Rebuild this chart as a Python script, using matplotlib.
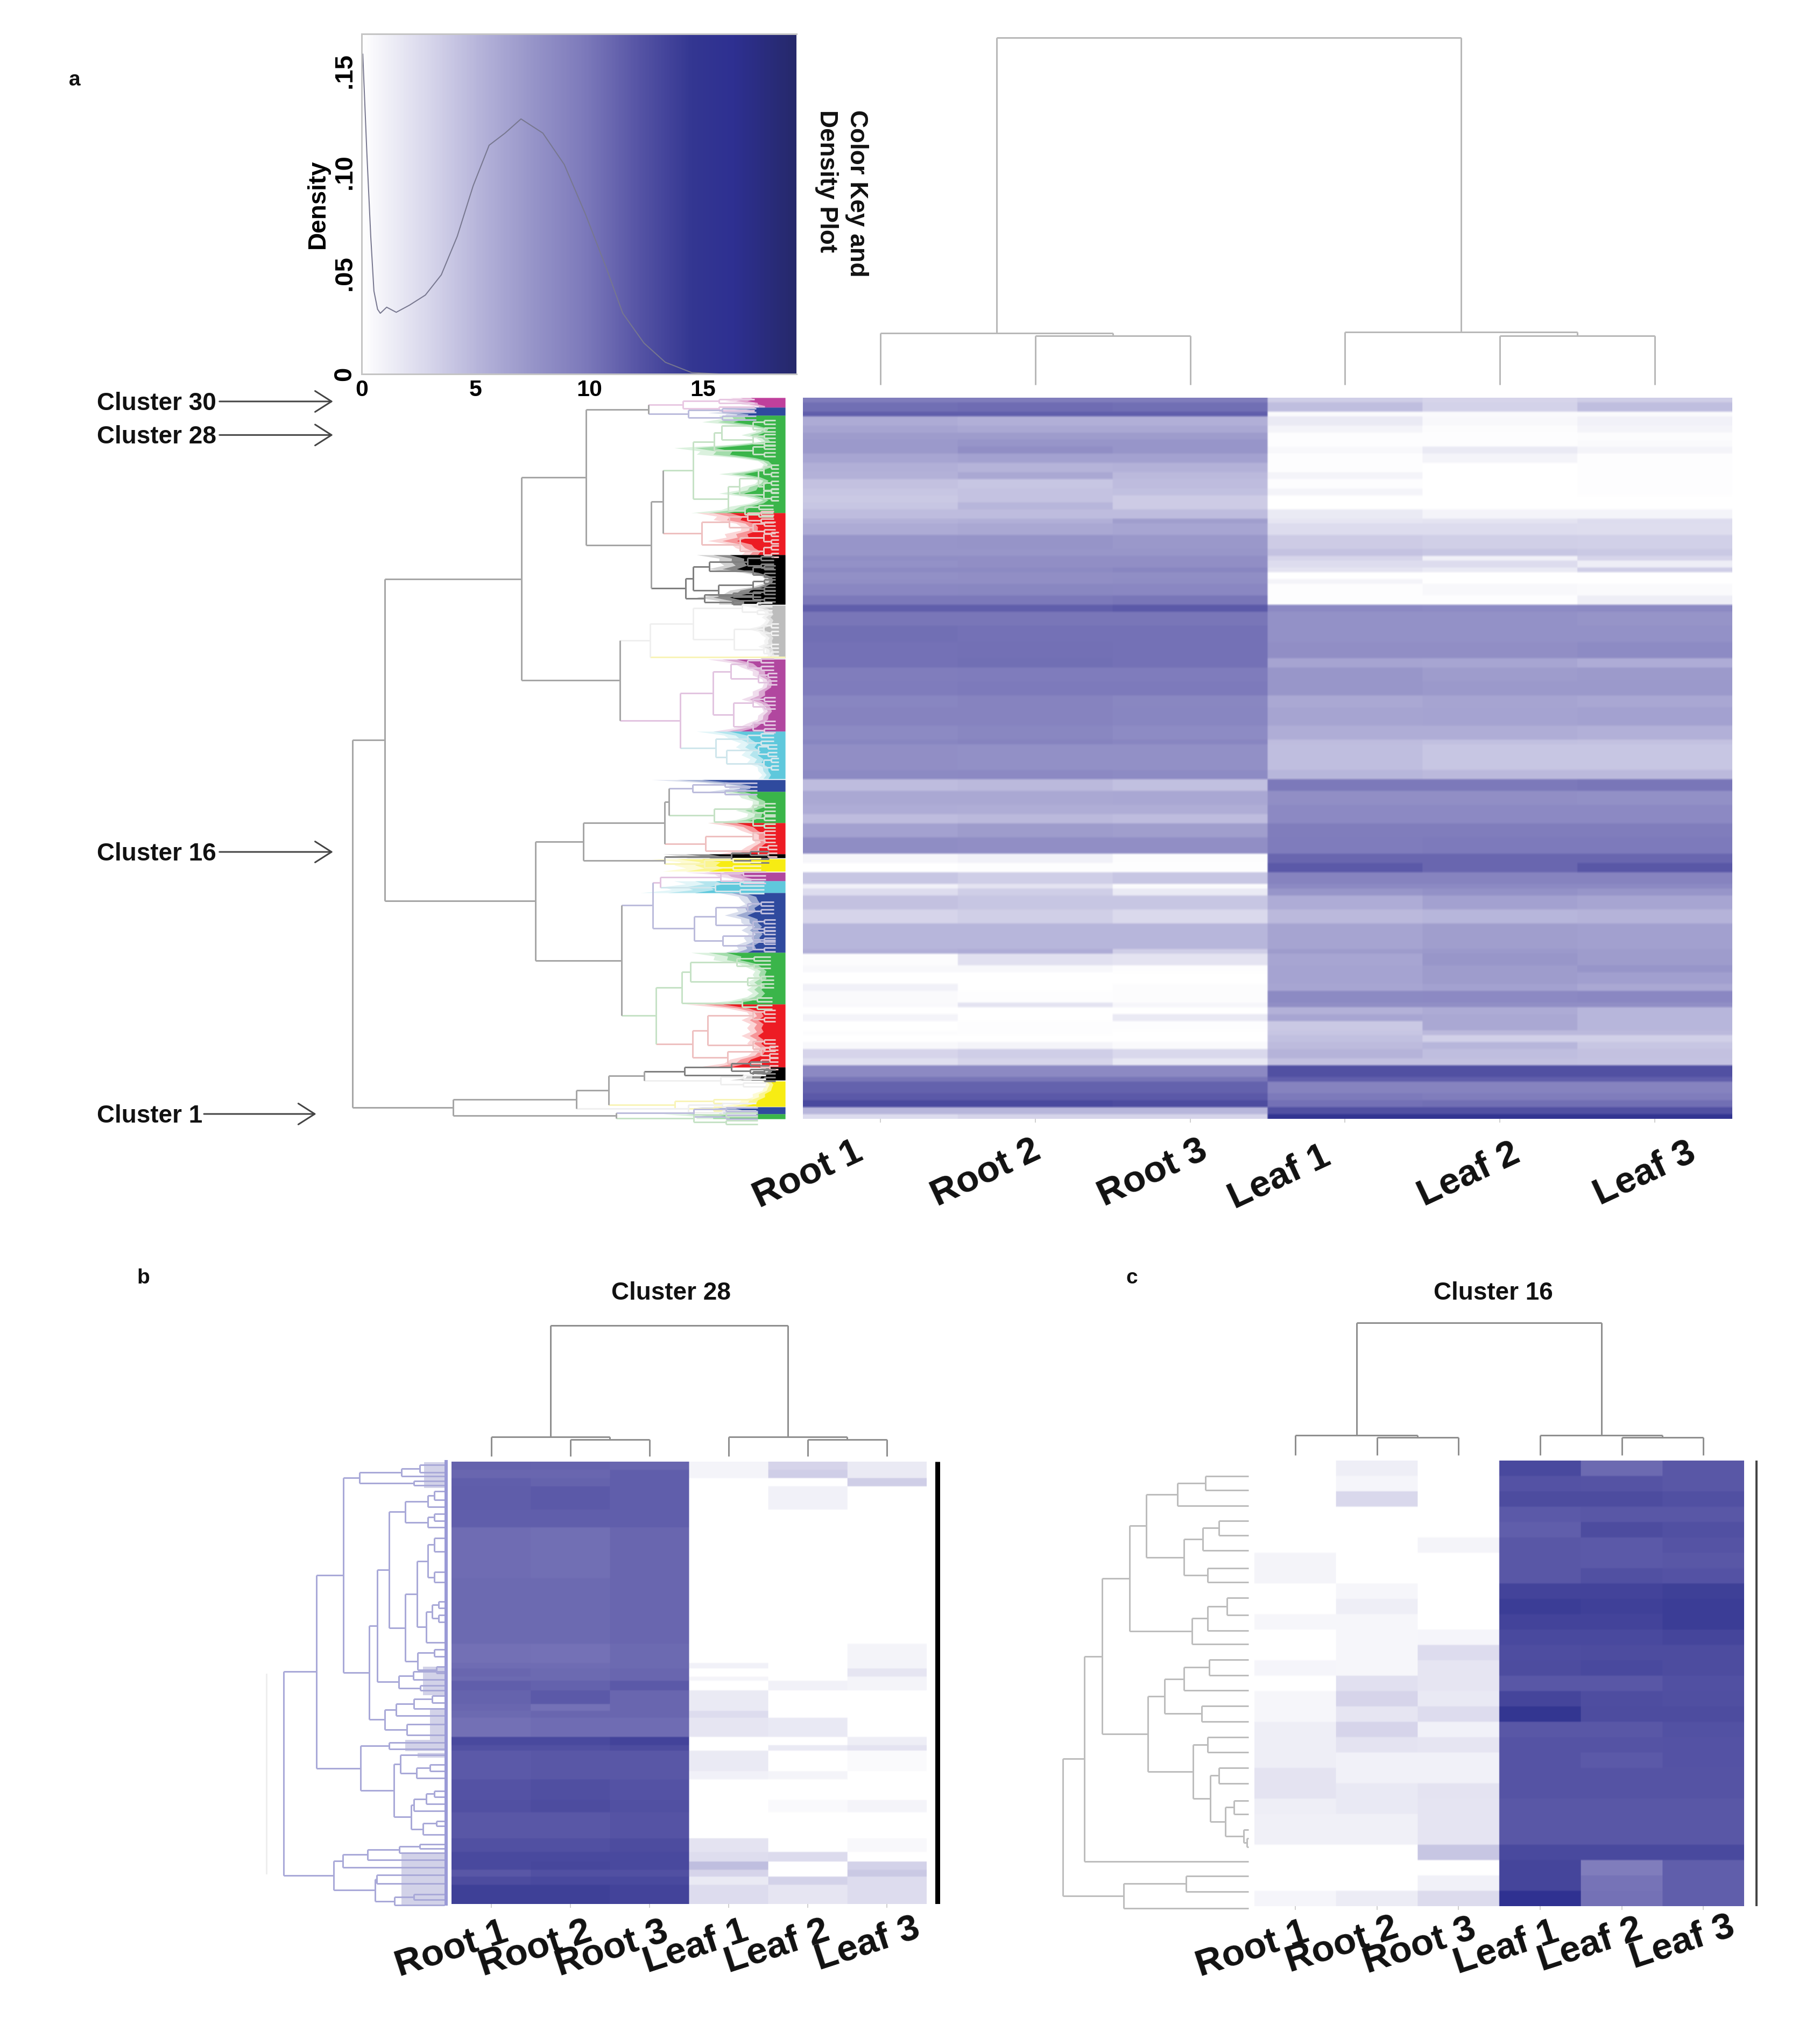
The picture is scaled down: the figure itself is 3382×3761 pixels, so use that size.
import numpy as np
import matplotlib
matplotlib.use('Agg')
from matplotlib import pyplot as plt
from matplotlib.colors import LinearSegmentedColormap

plt.rcParams['font.family'] = ['Liberation Sans', 'DejaVu Sans']
plt.rcParams['font.weight'] = 'bold'

W, H = 3382, 3761
S = W / 1410.0   # label positions were read on the shrunk picture

# colour key
key_stops = [0, 2.8, 5.15, 7.5, 9.8, 12.2, 14.5, 16.4, 19.1]
key_colors = ['#ffffff', '#d9d8ec', '#b6b4da', '#9795c9', '#7d7abb', '#5654a5', '#343792', '#2e3091', '#26296b']

# density curve
density_x = [0.05, 0.23, 0.4, 0.54, 0.7, 0.82, 1.1, 1.52, 2.1, 2.8, 3.5, 4.2, 4.9, 5.6, 6.3, 7.0, 7.96, 8.9,
             9.83, 10.76, 11.47, 12.4, 13.34, 14.5, 15.7, 19.1]
density_y = [0.158, 0.109, 0.068, 0.041, 0.032, 0.030, 0.033, 0.0305, 0.034, 0.039, 0.049, 0.068, 0.093, 0.113,
             0.119, 0.126, 0.119, 0.1035, 0.079, 0.052, 0.030, 0.0153, 0.0058, 0.0007, 0, 0]

samples = ['Root 1', 'Root 2', 'Root 3', 'Leaf 1', 'Leaf 2', 'Leaf 3']

# panel a heatmap, genes per band and values per sample
a_genes = [15, 60, 28, 42, 40, 40, 40, 40, 50, 50, 40, 50, 50, 35, 35, 50, 30, 70, 70, 45, 30, 30, 35, 30, 30, 60,
           55, 45, 70, 90,
           90, 55, 85, 70, 70, 100, 75, 25, 150, 55, 55, 90, 50, 50, 70, 100, 45, 55, 60,
           30, 35, 85, 80, 140, 30, 60, 35, 65, 40, 70, 20, 40, 40, 50, 30, 45, 40, 45, 40, 60, 25, 75, 40, 40, 30, 28]
a_values = [
    [9.5, 9.5, 9.5, 3.5, 3, 3.5], [10.5, 10.6, 10.5, 4.5, 3.2, 4.5], [11.5, 11.5, 11.5, 0.3, 0.3, 0.3],
    [5.8, 5.5, 5.5, 1.5, 0.5, 1], [6.3, 6, 6, 0.8, 0.2, 0.8], [7, 7, 7, 0.1, 0.1, 0.2], [7.2, 7.5, 7.5, 0.1, 0.1, 0.3],
    [7.2, 8, 7.5, 0.5, 1.5, 0.8], [6.2, 6.5, 6.5, 0.1, 0.8, 0.1], [5.5, 5.2, 5.3, 0.1, 0, 0.1],
    [5.3, 6, 4.8, 0.8, 0, 0.1], [4.3, 4, 4.6, 0.1, 0, 0.1], [4, 4.2, 4.4, 0.8, 0, 0.1], [3.8, 4.2, 3.6, 0, 0, 0],
    [4, 5, 3.6, 0, 0, 0], [4.6, 4.6, 4.6, 1.5, 0.8, 0.8], [5.3, 5.5, 6.8, 1.8, 2, 2.5], [5.8, 6, 6.2, 2.5, 2.5, 2.4],
    [7.5, 7.6, 7.3, 3.6, 3.4, 3.3], [7.4, 7.4, 7.4, 4.2, 4, 3.8], [8.1, 8, 8, 3, 1, 3], [7.8, 8, 8, 2.5, 2.5, 1.2],
    [8.4, 8.4, 8.8, 2, 1.5, 3.5], [7.9, 8, 8.1, 0, 0, 0], [8, 8, 8.2, 0.8, 0, 0], [8.6, 8.7, 8.6, 0.1, 0.5, 0.3],
    [9.8, 9.8, 10, 0.1, 0.1, 1.2], [11.5, 11.5, 11.8, 8.5, 8.3, 8.4], [10, 10, 10, 7.8, 7.8, 7.6],
    [10.5, 10.3, 10.3, 7.8, 7.8, 7.8],
    [10.3, 10.4, 10.3, 8, 8, 8.3], [10.3, 10.5, 10.3, 6.3, 6.2, 5.7], [9.5, 9.6, 9.6, 7.4, 7, 7.1],
    [9.6, 9.7, 9.7, 7.4, 7.2, 7.2], [8.8, 9, 8.7, 6, 6.3, 6.1], [9, 9, 8.8, 6.3, 6.4, 6.5],
    [8.4, 8.7, 8.3, 5.6, 5.6, 5.4], [8.8, 9, 8.8, 4.6, 4.4, 4.3], [8, 7.9, 7.9, 4.5, 4, 4],
    [8.4, 8.5, 8.3, 5, 4.8, 4.8], [4.6, 4.8, 4.4, 9.8, 9.8, 10], [6, 6, 6.1, 8, 8, 7.9],
    [5.7, 5.6, 5.6, 8.5, 8.5, 8.5], [4.6, 4.8, 4.6, 8.5, 8.5, 8.5], [6.5, 7, 6.8, 9.5, 9.5, 9.5],
    [8.2, 8, 8, 9.6, 9.7, 9.7], [0.6, 1, 0.2, 11, 11, 11], [0, 0.1, 0.1, 11.8, 11, 12], [4, 3.5, 4, 9, 9, 9],
    [1, 2, 0.3, 8.5, 8.5, 8.5], [2.5, 3.5, 1.5, 7.5, 7.8, 7.5], [4.3, 4, 4, 5.7, 6.5, 6.2], [3, 3.4, 2.7, 4.8, 5, 5.2],
    [5, 5, 5, 6.3, 6.8, 6.6], [5.5, 5.7, 3.5, 7, 7.2, 7], [0.2, 2.2, 2, 6.2, 7.4, 7], [0.5, 0.5, 0.1, 6.4, 7, 7.5],
    [0, 0, 0, 6.4, 7, 6.7], [1, 0, 0.2, 6.2, 6.5, 6], [0.3, 0.1, 0.2, 8.4, 8.5, 8.6], [0.4, 2, 0.6, 8, 8, 8],
    [0, 0, 0, 5.3, 5.8, 5], [0.8, 0, 1.5, 6.2, 6, 5], [0, 0.1, 0.1, 3.8, 6, 5], [0.2, 0.1, 0, 4, 4.8, 4.8],
    [0, 0, 0, 4.4, 3.3, 3.3], [0.5, 0.8, 0.3, 4.7, 5, 4], [3, 3.5, 2.8, 5.2, 4.5, 4.3], [2.3, 3, 1.7, 4.3, 4.3, 4.2],
    [8.5, 8.5, 8.5, 12.5, 12.5, 12.5], [10, 10, 10, 11.5, 11.5, 11.5], [11.3, 11.3, 11.3, 9, 9, 9],
    [11.8, 11.8, 11.8, 9.7, 9.5, 9.5], [13, 13, 12.8, 10.3, 10.5, 10.5], [5, 5, 5, 12.5, 12.5, 12.5],
    [2.5, 3, 3, 15, 15, 15],
]

# panel a clusters on the colour bar: name, first and last gene row
cl_color = {'M': '#c0409c', 'B': '#2f4a9e', 'G': '#3ab54a', 'R': '#ed1c24', 'K': '#000000', 'A': '#bdbdbd',
            'P': '#b1479f', 'C': '#5fc8dc', 'Y': '#f7ec13'}
cl_pale = {'M': '#e8c8e2', 'B': '#bcbcdc', 'G': '#c6e2c6', 'R': '#eec0c0', 'K': '#808080', 'A': '#efefef',
           'P': '#e2c4e0', 'C': '#cfe6ec', 'Y': '#f8f4b8', 'D': '#a6a6a6'}
cl_names = ['M', 'B', 'G', 'R', 'K', 'A', 'P', 'C', 'B', 'G', 'R', 'K', 'Y', 'P', 'C', 'B', 'G', 'R', 'K', 'Y', 'B', 'G']
cl_start = [0, 18, 33, 214, 292, 386, 486, 620, 710, 732, 790, 848, 857, 882, 898, 920, 1031, 1127, 1244, 1270, 1318, 1331]
cl_end = [18, 33, 214, 292, 384, 484, 620, 708, 732, 790, 848, 855, 880, 898, 920, 1031, 1127, 1244, 1268, 1317, 1331, 1340]
cl_depth = [
    [40, 45, 30, 20], [35, 50, 60, 45],
    [50, 65, 15, 30, 12, 90, 70, 15, 12, 50, 15, 30, 50, 15, 40, 75],
    [70, 55, 30, 45, 60, 35, 30], [70, 50, 60, 12, 10, 40, 70, 50],
    [30, 10, 12, 10, 25, 12, 10, 15, 8, 10],
    [60, 30, 20, 10, 20, 30, 12, 15, 25, 55], [70, 40, 35, 30, 25, 15, 15],
    [110, 40, 60], [50, 30, 20, 35, 25, 60], [60, 30, 20, 25, 50], [100, 100], [110, 90, 100],
    [80, 50, 40], [90, 100, 120],
    [50, 30, 35, 45, 30, 30, 28, 35, 45], [75, 55, 25, 20, 25, 25, 25, 70],
    [80, 25, 30, 25, 30, 25, 20, 40, 70], [15, 10, 25, 40], [12, 10, 20, 30, 50], [70, 50], [100, 70],
]

# panel a gene tree: node is (height, colour, upper, lower), leaf is (row, end height, colour)
a_top = (254, 'D', (13, 190, 'M'), (30, 180, 'B'))
a_green1 = (171, 'G', (132, 'G', (118, 'G', (52, 60, 'G'), (78, 60, 'G')), (98, 60, 'G')),
            (106, 'G', (85, 'G', (50, 'G', (135, 40, 'G'), (165, 40, 'G')), (180, 40, 'G')), (210, 75, 'G')))
a_red1 = (155, 'R', (104, 'R', (221, 70, 'R'), (241, 60, 'R')), (84, 'R', (260, 40, 'R'), (285, 40, 'R')))
a_black1 = (185, 'K', (171, 'K', (141, 'K', (305, 70, 'K'), (322, 60, 'K')), (124, 'K', (348, 60, 'K'), (368, 60, 'K'))),
            (373, 150, 'K'))
a_n3 = (370, 'D', a_top, (249, 'D', (227, 'D', a_green1, a_red1), a_black1))
a_grey = (251, 'A', (171, 'A', (391, 80, 'A'), (95, 'A', (430, 40, 'A'), (468, 40, 'A'))), (482, 0, 'Y'))
a_purple = (134, 'P', (101, 'P', (495, 70, 'P'), (522, 50, 'P')), (96, 'P', (567, 60, 'P'), (611, 60, 'P')))
a_cyan = (129, 'C', (634, 70, 'C'), (109, 'C', (655, 50, 'C'), (680, 40, 'C')))
a_n2 = (490, 'D', a_n3, (307, 'D', a_grey, (195, 'P', a_purple, a_cyan)))
a_n7 = (375, 'D',
        (224, 'D', (216, 'D', (726, 172, 'B'), (132, 'G', (764, 60, 'G'), (788, 60, 'G'))),
         (148, 'R', (815, 60, 'R'), (842, 50, 'R'))),
        (224, 'D', (853, 100, 'K'), (866, 150, 'Y')))
a_n8u = (246, 'B', (232, 'P', (891, 120, 'P'), (910, 130, 'C')),
         (169, 'B', (129, 'B', (947, 70, 'B'), (980, 60, 'B')), (116, 'B', (1000, 60, 'B'), (1018, 60, 'B'))))
a_n8l = (240, 'G', (192, 'G', (176, 'G', (1049, 90, 'G'), (1085, 70, 'G')), (1125, 80, 'G')),
         (172, 'R', (144, 'R', (1148, 60, 'R'), (1203, 60, 'R')), (107, 'R', (1215, 45, 'R'), (1237, 45, 'R'))))
a_n1 = (744, 'D', a_n2, (464, 'D', a_n7, (304, 'D', a_n8u, a_n8l)))
a_low = (617, 'D',
         (388, 'D', (328, 'D', (262, 'D', (187, 'K', (1244, 100, 'K'), (1259, 60, 'K')), (1269, 120, 'A')),
                     (1314, 205, 'Y')), (1321, 180, 'A')),
         (314, 'D', (1329, 170, 'B'), (1339, 170, 'G')))
a_tree = (804, 'D', a_n1, a_low)

# sample trees above the heatmaps
a_col_tree = (645, (96, 0.5, (91, 1.5, 2.5)), (98, 3.5, (91, 4.5, 5.5)))
b_col_tree = (243, (36, 0.5, (31, 1.5, 2.5)), (36, 3.5, (31, 4.5, 5.5)))
c_col_tree = (246, (37, 0.5, (33, 1.5, 2.5)), (37, 3.5, (33, 4.5, 5.5)))

# panel b heatmap
b_genes = [22, 25, 22, 68, 55, 145, 120, 75, 55, 15, 25, 10, 30, 40, 18, 22, 55, 25, 15, 60, 25, 60, 35, 75, 40, 28, 27,
           20, 23, 54]
b_values = [
    [11.3, 11.2, 11, 0.8, 3, 1.5], [11, 11, 11.5, 0.8, 3.5, 1.5], [11.5, 11.2, 11.5, 0, 0, 3.5],
    [11.6, 11.8, 11.5, 0, 1, 0], [11.5, 11.5, 11.5, 0, 0, 0], [10.6, 10.5, 11, 0, 0, 0], [10.8, 10.8, 11, 0, 0, 0],
    [10.8, 10.8, 11, 0, 0, 0], [10.4, 10.3, 10.8, 0, 0, 0.8], [10.6, 10.6, 10.8, 1, 0, 0.8], [11, 10.8, 11, 0, 0, 1.8],
    [10.8, 10.8, 11, 0.8, 0, 0.8], [11.5, 11.3, 11.8, 0, 1, 0.8], [11.2, 11.8, 11, 1.5, 0, 0], [11, 10.3, 11, 1.5, 0, 0],
    [10.8, 11, 11, 2.5, 0, 0], [10.4, 10.6, 10.6, 1.8, 1.6, 0], [13, 13, 13.5, 0, 0, 1.2], [12.5, 12.5, 12.8, 0, 1.5, 2],
    [11.8, 12, 12, 1.5, 0, 0.3], [11.8, 12, 12, 1, 0.8, 0], [12.3, 12.6, 12.3, 0, 0, 0], [12.5, 12.8, 12.5, 0, 0.4, 0.8],
    [12, 12, 12.2, 0, 0, 0], [12.5, 12.5, 12.8, 2, 0, 0.5], [13, 13, 13, 2.4, 2.6, 0], [13, 13.2, 13, 4.5, 0, 3.2],
    [12, 12.5, 12.5, 3, 0, 3.8], [12.8, 13, 13, 1.5, 3.2, 2.5], [13.8, 13.8, 13.5, 2.5, 1.8, 2.5],
]

# panel b gene tree: node is (height, upper, lower), leaf is a row
b_a = (207, (105, (60, 113, 135), 145), (75, 160, 172))
b_b = (95, (40, (25, 190, 215), 235), (40, (25, 255, 275), 295))
b_c = (96, (67, (40, (25, 325, 365), (25, 425, 455)), (45, (30, (15, 510, 530), (15, 550, 570)), 630)),
       (65, (25, 650, 670), (20, 700, 720)))
b_e = (163, (134, b_b, b_c), (111, (76, 715, 738), (59, 755, 770)))
b_g = (145, (118, (74, (30, 785, 805), 823), 843), (91, 868, 899))
b_top1 = (246, b_a, (183, b_e, b_g))
b_top2 = (204, (135, 921, 941),
          (123, (107, 958, (68, (35, 986, 1005), 1025)),
           (81, (74, (45, (25, 1062, 1080), 1100), 1120), (52, (20, 1150, 1165), 1190))))
b_top3 = (269, (247, (187, (110, (60, 1218, 1230), 1243), 1263), 1285),
          (169, (165, 1308, 1333), (122, (74, 1364, 1380), 1395)))
b_tree = (391, (311, b_top1, b_top2), b_top3)
b_dense_from = [105, 700, 823, 913, 952, 1243]
b_dense_to = [180, 784, 913, 947, 966, 1395]
b_dense_depth = [50, 52, 35, 96, 65, 105]
b_stem_height = 433

# panel c heatmap
c_values = [
    [0, 1.2, 0, 13, 10.8, 12], [0, 0.7, 0, 12.3, 12.2, 12], [0, 2.8, 0, 12.8, 12.8, 12.5], [0, 0, 0, 11.8, 12, 12],
    [0, 0, 0, 11.5, 12.8, 12.5], [0, 0, 0.8, 12, 11.8, 12.2], [0.8, 0, 0, 12, 11.8, 12], [0.8, 0, 0, 12, 12.5, 12.3],
    [0, 0.6, 0, 13.5, 13.5, 13.8], [0, 1.2, 0, 14, 13.7, 14], [0.6, 0.6, 0, 13.5, 13.5, 14], [0, 0.6, 0.7, 13, 13, 13.3],
    [0, 0.6, 2.5, 12.7, 12.8, 12.8], [0.7, 0.6, 1.8, 12.8, 13, 12.8], [0, 2.2, 1.8, 12, 12, 12.5],
    [0.6, 3, 1.6, 13.3, 12.7, 12.6], [0.6, 1.8, 2.5, 14.5, 12.8, 12.8], [1.2, 3, 1, 12, 12, 12.4],
    [1.2, 2, 1.8, 12.2, 12.2, 12.3], [1.2, 1, 1, 12.2, 11.8, 12.3], [2, 1, 1, 12.2, 12.2, 12.2],
    [2, 1.6, 2, 12.2, 12.2, 12.2], [1.2, 1.6, 1.9, 12, 12, 12], [1.1, 1.1, 1.9, 12, 12, 12], [1.1, 1.1, 1.9, 12, 12, 12],
    [0, 0, 4, 13, 13, 13], [0, 0, 0, 13.3, 9.5, 11.5], [0, 0, 1, 13.3, 10.2, 11.5], [0.7, 1.4, 2.6, 16, 10.3, 11.5],
]

# panel c gene tree
c_g = (213, (148, (90, 145, 187), 232),
       (135, (95, (62, 275, 318), 362), (85, 413, 455)))
c_j = (118, (85, (45, 500, 550), 595), 635)
c_k = (248, c_g, c_j)
c_o = (175, (135, (82, 680, 725), 770), (97, 815, 860))
c_u = (48, (30, 1090, 1130), (10, 1175, (3, 1200, 1225)))
c_w = (115, (85, 905, 950), (80, (62, 995, 1040), c_u))
c_y = (305, c_k, (210, c_o, c_w))
c_tree = (387, (342, c_y, 1268), (260, (130, 1310, 1355), 1405))


def px_axes(x0, y0, x1, y1):
    return fig.add_axes([x0 / W, 1 - y1 / H, (x1 - x0) / W, (y1 - y0) / H])


def lw(px):
    return px * 0.72


def draw_tree(ax, node, color, width, col_tree=False, seen=None):
    # returns (position, height, colour) of the node, draws everything under it
    def seg(h0, p0, h1, p1, c):
        if col_tree:
            ax.plot([p0, p1], [h0, h1], color=c, lw=lw(width), solid_capstyle='butt', clip_on=False)
        else:
            ax.plot([h0, h1], [p0, p1], color=c, lw=lw(width), solid_capstyle='butt', clip_on=False)

    if isinstance(node, (int, float)):
        if seen is not None:
            seen.append(node)
        return node, 0, color
    if len(node) == 3 and isinstance(node[2], str):
        # coloured leaf of panel a, it forks twice on its way into the colour bar
        y, h_end, name = node
        c = cl_pale[name]
        if h_end > 0:
            seg(h_end, y - 7, h_end, y + 7, c)
            for d in (-7, 7):
                seg(h_end, y + d, h_end * 0.65, y + d, c)
                seg(h_end * 0.65, y + d - 3.5, h_end * 0.65, y + d + 3.5, c)
                seg(h_end * 0.65, y + d - 3.5, h_end * 0.3, y + d - 3.5, c)
                seg(h_end * 0.65, y + d + 3.5, h_end * 0.3, y + d + 3.5, c)
        return y, h_end, c
    if len(node) == 4:
        h, c, up, down = node
        c = cl_pale[c]
    else:
        h, up, down = node
        c = color
    p_up, h_up, c_up = draw_tree(ax, up, color, width, col_tree, seen)
    p_down, h_down, c_down = draw_tree(ax, down, color, width, col_tree, seen)
    seg(h, p_up, h_up, p_up, c_up)
    seg(h, p_down, h_down, p_down, c_down)
    seg(h, p_up, h, p_down, c)
    return (p_up + p_down) / 2.0, h, c


def heat(ax, values, genes):
    # one row per few genes, so that imshow softens the band edges a little
    rows = np.repeat(np.array(values), genes, axis=0)
    step = max(1, rows.shape[0] // 300)
    shown = np.repeat(rows[::step], 100, axis=1)
    ax.imshow(shown, cmap=cmap, vmin=0, vmax=19.1, aspect='auto', interpolation='bilinear',
              extent=[0, 6, rows.shape[0], 0])
    ax.set_xticks(np.arange(6) + 0.5)
    ax.set_xticklabels([])
    ax.set_yticks([])
    ax.tick_params(axis='x', length=5, width=lw(2), color='#d0d0d0')
    for s in ax.spines.values():
        s.set_visible(False)


def bare(ax):
    ax.axis('off')


def label(x, y, txt, **kw):
    fig.text(x * S / W, 1 - y * S / H, txt, ha='center', va='center', color='#111111', **kw)


cmap = LinearSegmentedColormap.from_list('key', [(v / 19.1, c) for v, c in zip(key_stops, key_colors)])

fig = plt.figure(figsize=(W / 100, H / 100), dpi=100, facecolor='white')

# colour key and density
ax = px_axes(672, 63, 1480, 695)
ax.imshow(np.linspace(0, 19.1, 400).reshape(1, -1), cmap=cmap, vmin=0, vmax=19.1, aspect='auto',
          extent=[0, 19.1, 0, 0.168], zorder=0)
ax.plot(density_x, density_y, color='#77778f', lw=lw(2))
ax.set_xlim(0, 19.1)
ax.set_ylim(0, 0.168)
ax.set_xticks([0, 5, 10, 15])
ax.set_xticklabels(['0', '5', '10', '15'], fontsize=31, fontweight='bold')
ax.set_yticks([0, 0.05, 0.10, 0.15])
ax.set_yticklabels(['0', '.05', '.10', '.15'], fontsize=34, fontweight='bold', rotation=90, va='center')
ax.tick_params(length=0, pad=7)
ax.set_ylabel('Density', fontsize=33, fontweight='bold', labelpad=4)
for s in ax.spines.values():
    s.set_color('#c4c4c4')
    s.set_linewidth(lw(3))
ax.spines['right'].set_visible(False)
fig.text(652 * S / W, 1 - 85 * S / H, 'Color Key and\nDensity Plot', fontsize=33, fontweight='bold', rotation=270,
         ha='center', va='top', multialignment='left', linespacing=1.35, color='#111111')

# panel a
ax = px_axes(1492, 739, 3219, 2079)
heat(ax, a_values, a_genes)

ax = px_axes(1492, 65, 3219, 715)
bare(ax)
ax.set_xlim(0, 6)
ax.set_ylim(0, 650)
draw_tree(ax, a_col_tree, '#b8b8b8', 3, col_tree=True)

ax = px_axes(600, 739, 1459, 2079)
bare(ax)
ax.set_xlim(859, 0)
ax.set_ylim(1340, 0)
draw_tree(ax, a_tree, '#a6a6a6', 3)
for name, y0, y1, depth in zip(cl_names, cl_start, cl_end, cl_depth):
    rows = np.linspace(y0, y1, len(depth) * 2 - 1)
    prof = np.interp(rows, np.linspace(y0, y1, len(depth)), depth) * 1.3 + 12
    prof[1::2] = prof[1::2] * 0.85
    ax.fill_betweenx(rows, 0, prof * 1.6, color=cl_color[name], alpha=0.18, lw=0)
    ax.fill_betweenx(rows, 0, prof * 1.3, color=cl_color[name], alpha=0.35, lw=0)
    ax.fill_betweenx(rows, 0, prof, color=cl_color[name], lw=0)

# cluster arrows
names = ['Cluster 30', 'Cluster 28', 'Cluster 16', 'Cluster 1']
name_y = [311, 337, 660, 863]
arrow_from = [170, 170, 170, 158]
arrow_to = [258, 258, 258, 245]
for n, y, a0, a1 in zip(names, name_y, arrow_from, arrow_to):
    fig.text(75 * S / W, 1 - (y + 1.5) * S / H, n, fontsize=33, fontweight='bold', ha='left', va='center', color='#111111')
    fig.add_artist(matplotlib.patches.FancyArrowPatch(
        (a0 * S / W, 1 - y * S / H), (a1 * S / W, 1 - y * S / H), transform=fig.transFigure,
        arrowstyle='->,head_length=22,head_width=14', color='#444444', lw=lw(3), shrinkA=0, shrinkB=0))

# panel b
ax = px_axes(839, 2716, 1721, 3538)
heat(ax, b_values, b_genes)

ax = px_axes(839, 2463, 1721, 2706)
bare(ax)
ax.set_xlim(0, 6)
ax.set_ylim(0, 243)
draw_tree(ax, b_col_tree, '#8f8f8f', 3, col_tree=True)

ax = px_axes(480, 2716, 826, 3538)
bare(ax)
ax.set_xlim(452, 0)
ax.set_ylim(1392, 103)
for y0, y1, d in zip(b_dense_from, b_dense_to, b_dense_depth):
    ax.fill_betweenx([y0, y1], 0, d, color='#d2d2e8', lw=0)
b_leaves = []
b_mid = draw_tree(ax, b_tree, '#a9a9d8', 3, seen=b_leaves)
ax.plot([b_stem_height, b_stem_height], [b_mid[0] - 290, b_mid[0] + 290], color='#eeeeee', lw=lw(3))
ax.axvline(-4, color='#9a9ad6', lw=lw(6), clip_on=False)

ax = px_axes(1735, 2716, 1748, 3538)
bare(ax)
ax.set_xlim(0, 1)
ax.set_ylim(1392, 103)
ax.vlines(0.5, 103, 1392, color='black', lw=lw(9))

# panel c
ax = px_axes(2331, 2714, 3241, 3542)
heat(ax, c_values, [10] * 29)

ax = px_axes(2331, 2458, 3241, 2704)
bare(ax)
ax.set_xlim(0, 6)
ax.set_ylim(0, 246)
draw_tree(ax, c_col_tree, '#8f8f8f', 3, col_tree=True)

ax = px_axes(1963, 2714, 2320, 3542)
bare(ax)
ax.set_xlim(400, 0)
ax.set_ylim(1398, 100)
c_leaves = []
draw_tree(ax, c_tree, '#bdbdbd', 3, seen=c_leaves)

ax = px_axes(3259, 2714, 3268, 3542)
bare(ax)
ax.set_xlim(0, 1)
ax.set_ylim(1398, 100)
ax.vlines(0.5, 100, 1398, color='#444444', lw=lw(4))

# sample labels, tilted
a_label_x = [626, 764, 893, 991, 1138, 1274]
a_label_y = [910, 909, 909, 912, 910, 909]
b_label_x = [350, 415, 474, 539, 602, 672]
b_label_y = [1510, 1510, 1510, 1508, 1508, 1506]
c_label_x = [970, 1040, 1100, 1167, 1232, 1303]
c_label_y = [1510, 1507, 1508, 1509, 1507, 1505]
for xs, ys, rot in [(a_label_x, a_label_y, 25), (b_label_x, b_label_y, 18), (c_label_x, c_label_y, 18)]:
    for t, x, y in zip(samples, xs, ys):
        label(x, y, t, fontsize=50, fontweight='bold', rotation=rot)

label(520, 1002, 'Cluster 28', fontsize=33, fontweight='bold')
label(1157, 1002, 'Cluster 16', fontsize=33, fontweight='bold')
label(58, 62, 'a', fontsize=28, fontweight='bold')
label(111, 990, 'b', fontsize=28, fontweight='bold')
label(877, 990, 'c', fontsize=28, fontweight='bold')

fig.savefig('out.png', dpi=100)
